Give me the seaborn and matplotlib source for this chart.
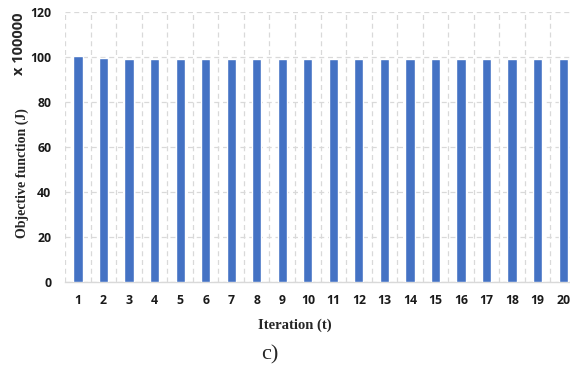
import numpy as np
import pandas as pd
import matplotlib
matplotlib.use("Agg")
import matplotlib.pyplot as plt
import seaborn as sns
from matplotlib.ticker import FixedLocator

iterations = [str(i) for i in range(1, 21)]
objective = [100.4, 99.5, 99.0, 98.9, 98.9, 98.9, 98.9, 98.9, 98.9, 98.9,
             98.9, 98.9, 98.9, 98.9, 98.9, 98.9, 98.9, 98.9, 98.9, 98.9]
y_ticks = [0, 20, 40, 60, 80, 100, 120]

df = pd.DataFrame({"Iteration": iterations, "Objective": objective})

sns.set_style("white")
fig = plt.figure(figsize=(5.7, 3.69), dpi=100)
ax = fig.add_axes([65.2 / 570, 1 - 282 / 369, 1 - 65.2 / 570, (282 - 12) / 369])

sns.barplot(data=df, x="Iteration", y="Objective", color="#4472C4", width=0.36,
            saturation=1, ax=ax, zorder=3)

ax.set_ylim(0, 120)
ax.set_xlim(-0.5, 19.27)
ax.set_yticks(y_ticks)
ax.xaxis.set_minor_locator(FixedLocator(np.arange(-0.5, 20, 1)))
ax.grid(axis="y", which="major", color="#d9d9d9", linestyle=(0, (4, 3)), linewidth=0.9, zorder=0)
ax.grid(axis="x", which="minor", color="#d9d9d9", linestyle=(0, (4, 3)), linewidth=0.9, zorder=0)
ax.grid(axis="x", which="major", visible=False)
for s in ["top", "right", "left"]:
    ax.spines[s].set_visible(False)
ax.spines["bottom"].set_color("#d9d9d9")
ax.spines["bottom"].set_linewidth(1.0)
ax.tick_params(axis="both", which="both", length=0)
ax.tick_params(axis="y", pad=10)
ax.tick_params(axis="x", pad=9)
for lab in ax.get_xticklabels() + ax.get_yticklabels():
    lab.set_fontfamily("Open Sans")
    lab.set_fontweight("bold")
    lab.set_fontsize(8.8)
    lab.set_color("#1a1a1a")

ax.set_xlabel("")
ax.set_ylabel("")
fig.text(295 / 570, 1 - 325 / 369, "Iteration (t)", family="Liberation Serif", fontweight="bold",
         fontsize=10.5, ha="center", va="center")
fig.text(22 / 570, 1 - 173 / 369, "Objective function (J)", family="Liberation Serif",
         fontweight="bold", fontsize=10, rotation=90, ha="center", va="center")
fig.text(19 / 570, 1 - 44 / 369, "x 100000", family="Open Sans", fontweight="bold",
         fontsize=10.5, rotation=90, ha="center", va="center")
fig.text(270 / 570, 1 - 355 / 369, "c)", family="Liberation Serif", fontsize=16,
         ha="center", va="center")

fig.savefig("out.png", dpi=100)
